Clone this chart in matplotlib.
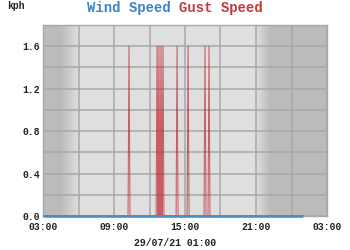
import matplotlib
matplotlib.use("Agg")
import matplotlib.pyplot as plt
import numpy as np

# ---- data (hours since 28/07/21 00:00) ----
x_tick_hours = [3, 9, 15, 21, 27]
x_tick_labels = ["03:00", "09:00", "15:00", "21:00", "03:00"]
y_ticks = [0.0, 0.4, 0.8, 1.2, 1.6]
y_tick_labels = ["0.0", "0.4", "0.8", "1.2", "1.6"]

wind_times = [3.0, 25.0]
wind_speed = [0.0, 0.0]

# gust spikes (time in hours, value in kph); gust is 0 otherwise
gust_spike_times = [10.27, 12.64, 12.80, 12.97, 13.14, 14.33, 15.26, 16.69, 17.03]
gust_spike_values = [1.6, 1.6, 1.6, 1.6, 1.6, 1.6, 1.6, 1.6, 1.6]
gust_start, gust_end = 3.0, 25.0

date_label = "29/07/21 01:00"

# ---- build gust line from spikes ----
step = 5 / 60.0
gx, gy = [gust_start], [0.0]
for t, v in zip(gust_spike_times, gust_spike_values):
    gx += [t - step, t, t + step]
    gy += [0.0, v, 0.0]
gx.append(gust_end)
gy.append(0.0)

fig = plt.figure(figsize=(3.5, 2.5), dpi=100)
fig.patch.set_facecolor("white")
ax = fig.add_axes([43 / 350, 1 - 216 / 250, (327 - 43) / 350, (216 - 25) / 250])

# day/night background
xs = np.linspace(3, 27, 600)
dark, light = 0.735, 0.875
shade = np.full_like(xs, light)
shade = np.where(xs < 4.5, dark, shade)
m = (xs >= 4.5) & (xs < 6.0)
shade[m] = dark + (light - dark) * (xs[m] - 4.5) / 1.5
m = (xs >= 21.0) & (xs < 22.2)
shade[m] = light - (light - dark) * (xs[m] - 21.0) / 1.2
shade[xs >= 22.2] = dark
img = np.repeat(shade[None, :, None], 3, axis=2)
ax.imshow(img, extent=[3, 27, 0, 1.8], aspect="auto", zorder=0, interpolation="bilinear")

ax.set_xlim(3, 27)
ax.set_ylim(0, 1.8)

ax.set_xticks(x_tick_hours)
ax.set_xticklabels(x_tick_labels)
ax.set_xticks(np.arange(3, 28, 3), minor=True)
ax.set_yticks(y_ticks)
ax.set_yticklabels(y_tick_labels)
ax.set_yticks(np.arange(0, 1.81, 0.2), minor=True)
ax.grid(True, which="both", color="#a8a8a8", linewidth=1.1, zorder=1)
ax.set_axisbelow(False)
ax.tick_params(which="both", length=0)
ax.tick_params(axis="x", pad=4)
ax.tick_params(axis="y", pad=2)
for lab in ax.get_xticklabels() + ax.get_yticklabels():
    lab.set_fontfamily("Liberation Mono")
    lab.set_fontweight("bold")
    lab.set_fontsize(7)
    lab.set_color("#222222")
for lab in ax.get_yticklabels():
    lab.set_verticalalignment("center_baseline")
for s in ax.spines.values():
    s.set_color("#a8a8a8")
    s.set_linewidth(1)

ax.plot(gx, gy, color="#c0303a", linewidth=0.75, alpha=0.75, zorder=3)
ax.plot(wind_times, wind_speed, color="#4a8cc4", linewidth=1.8, zorder=4, clip_on=False,
        solid_capstyle="butt")

mono = dict(fontfamily="Liberation Mono", fontweight="bold")
fig.text(128.5 / 350, 1 - 8 / 250, "Wind Speed", color="#3d85c6", fontsize=10,
         ha="center", va="center", **mono)
fig.text(220.5 / 350, 1 - 8 / 250, "Gust Speed", color="#c23b3b", fontsize=10,
         ha="center", va="center", **mono)
fig.text(16 / 350, 1 - 6 / 250, "kph", color="#222222", fontsize=7,
         ha="center", va="center", **mono)
fig.text(175 / 350, 1 - 243 / 250, date_label, color="#222222", fontsize=7,
         ha="center", va="center", **mono)

fig.savefig("out.png", dpi=100)
